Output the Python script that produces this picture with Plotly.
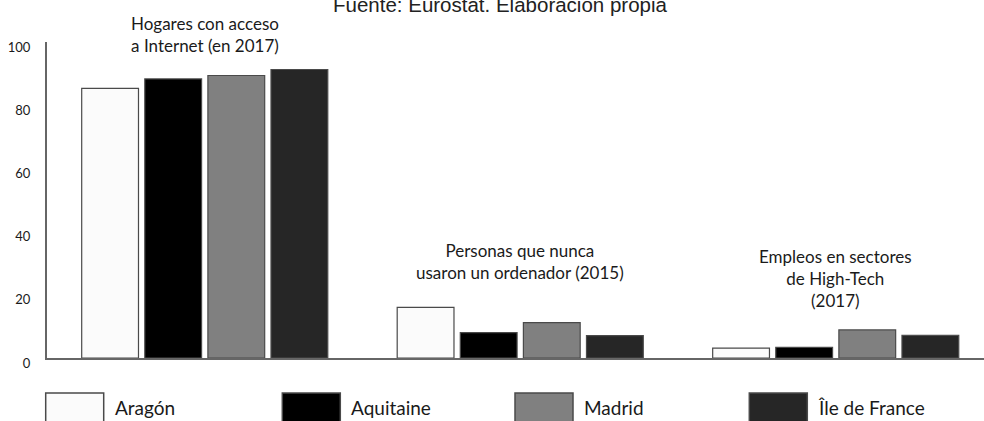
import plotly.graph_objects as go

categories = ["Hogares con acceso<br>a Internet (en 2017)",
              "Personas que nunca<br>usaron un ordenador (2015)",
              "Empleos en sectores<br>de High-Tech<br>(2017)"]
regions = ["Aragón", "Aquitaine", "Madrid", "Île de France"]
aragon = [85.3, 16.0, 3.1]
aquitaine = [88.3, 8.0, 3.4]
madrid = [89.4, 11.2, 8.9]
ile_de_france = [91.3, 7.1, 7.2]
series = [aragon, aquitaine, madrid, ile_de_france]
y_ticks = [0, 20, 40, 60, 80, 100]
source_text = "Fuente: Eurostat. Elaboración propia"

colors = ["#fbfbfb", "#000000", "#808080", "#262626"]
outline = "#4a4a4a"
FONT = "Lato"

W, H = 984, 421
ML, MR, MT, MB = 47, 0, 42, 63
PW, PH = W - ML - MR, H - MT - MB

def px(x):
    return (x - ML) / PW

def py(y):
    return (H - MB - y) / PH

xs = [0, 1, 2]
fig = go.Figure()
for name, vals, col in zip(regions, series, colors):
    fig.add_trace(go.Bar(x=xs, y=vals, name=name, marker=dict(color=col, line=dict(color=outline, width=1.2)),
                         showlegend=False, hoverinfo="skip"))

# category labels above bar groups
label_y = [py(58), py(285), py(313)]
for i, (cat, yy) in enumerate(zip(categories, label_y)):
    fig.add_annotation(x=xs[i], xref="x", y=yy, yref="paper", text=cat, showarrow=False,
                       xanchor="center", yanchor="bottom", align="center",
                       font=dict(family=FONT, size=17, color="#1a1a1a"))

# source line
fig.add_annotation(x=px(500), xref="paper", y=py(4), yref="paper", text=source_text, showarrow=False,
                   xanchor="center", yanchor="middle",
                   font=dict(family="Liberation Sans, Arial", size=20.5, color="#222222"))

# legend drawn as boxes + labels
legend_x = [45.7, 282.3, 515.0, 749.3]
for name, col, lx in zip(regions, colors, legend_x):
    fig.add_shape(type="rect", xref="paper", yref="paper",
                  x0=px(lx), x1=px(lx + 58), y0=py(393), y1=py(430),
                  fillcolor=col, line=dict(color=outline, width=1.5))
    fig.add_annotation(x=px(lx + 67), xref="paper", y=py(407), yref="paper", text=name, showarrow=False,
                       xanchor="left", yanchor="middle",
                       font=dict(family=FONT, size=19, color="#1a1a1a"))

fig.update_layout(
    width=W, height=H,
    margin=dict(l=ML, r=MR, t=MT, b=MB),
    paper_bgcolor="white", plot_bgcolor="white",
    barmode="group", bargap=0.2, bargroupgap=0.1,
    showlegend=False,
    xaxis=dict(range=[-0.5, 2.47], showticklabels=False, showgrid=False, zeroline=False,
               showline=True, linecolor="#666666", linewidth=2, ticks="", fixedrange=True),
    yaxis=dict(range=[0, 100], tickvals=y_ticks, showgrid=False, zeroline=False,
               showline=True, linecolor="#666666", linewidth=2, ticks="",
               ticklabelstandoff=12, ticklabelshift=5, fixedrange=True,
               tickfont=dict(family=FONT, size=13, color="#1a1a1a")),
)

fig.write_html("out.html", config={"displayModeBar": False},
               post_script="document.body.style.margin='0';document.body.style.overflow='hidden';")
